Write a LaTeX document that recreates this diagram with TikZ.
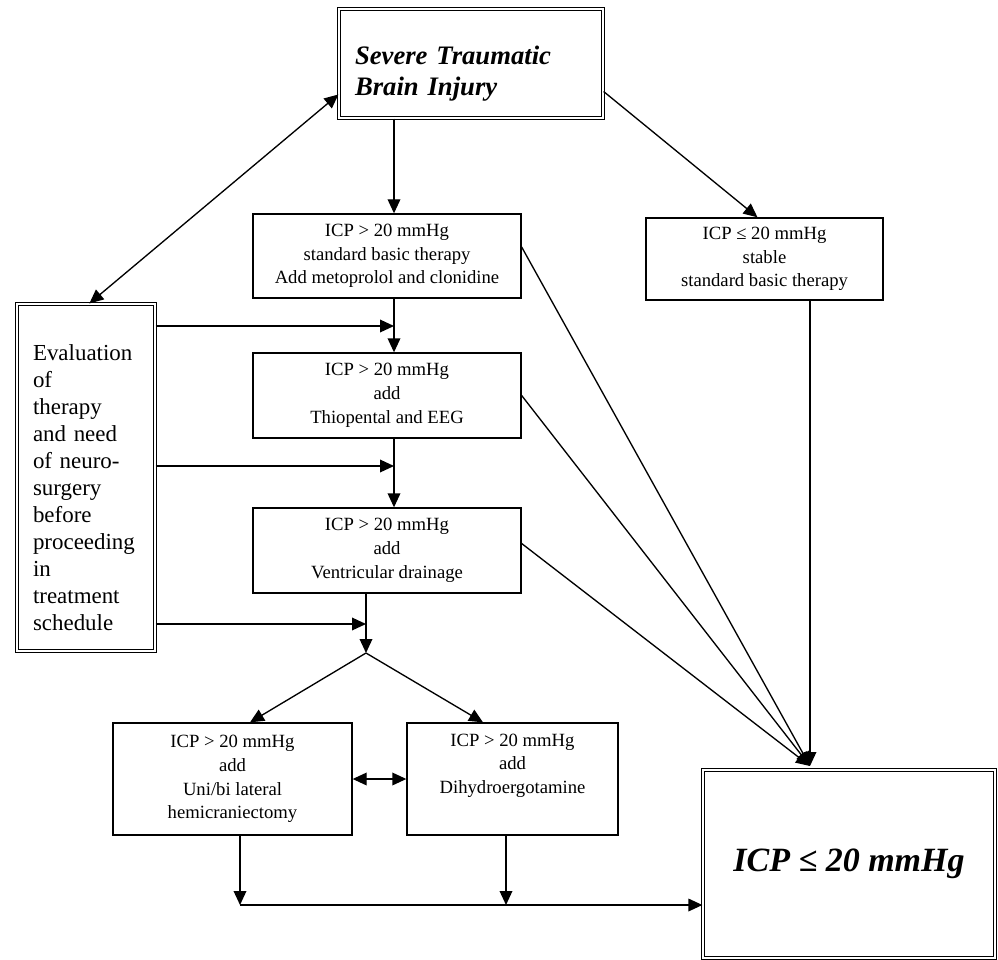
\documentclass[tikz,border=0pt]{standalone}
\usepackage{fontspec}
\setmainfont{Liberation Serif}
\usetikzlibrary{arrows.meta,calc}
\newcommand\boxtxt{\fontsize{14}{17.8}\selectfont}
\newcommand\evaltxt{\fontsize{17.2}{20.3}\selectfont}
\newcommand\headtxt{\bfseries\itshape\fontsize{20}{23.3}\selectfont}
\newcommand\goaltxt{\bfseries\itshape\fontsize{25.5}{30}\selectfont}
\tikzset{
	tbox/.style={draw, line width=1pt, inner sep=0pt, align=center, font=\boxtxt},
	dbox/.style={draw, double, double distance=1.6pt, line width=0.9pt, inner sep=0pt}
}
\begin{document}
\begin{tikzpicture}[x=0.75pt,y=-0.75pt,line width=1pt,>={Triangle[length=10.5pt,width=9.5pt]}]
				\useasboundingbox (0,0) rectangle (998,959);
				
				\node[dbox, minimum width=198pt, minimum height=81.75pt, text width=174pt, align=left, font=\headtxt] (top) at (471,63.5) {\rule{0pt}{29pt}Severe Traumatic\\Brain Injury};
				\node[tbox, minimum width=201pt, minimum height=63pt] (box1) at (387,256) {ICP > 20 mmHg\\standard basic therapy\\Add metoprolol and clonidine};
				\node[tbox, minimum width=177.75pt, minimum height=61.5pt] (stable) at (764.5,259) {ICP ≤ 20 mmHg\\stable\\standard basic therapy};
				\node[tbox, minimum width=201pt, minimum height=63.75pt] (box2) at (387,395.5) {ICP > 20 mmHg\\add\\Thiopental and EEG};
				\node[tbox, minimum width=201pt, minimum height=63.75pt] (box3) at (387,550.5) {ICP > 20 mmHg\\add\\Ventricular drainage};
				\node[dbox, minimum width=103.5pt, minimum height=260.25pt, text width=79.5pt, align=left, font=\evaltxt] (eval) at (86,477.5) {\rule{0pt}{27pt}Evaluation\\of\\therapy\\and need\\of neuro-\\surgery\\before\\proceeding\\in\\treatment\\schedule};
				\node[tbox, minimum width=179.25pt, minimum height=84pt] (boxL) at (232.5,779) {ICP > 20 mmHg\\add\\Uni/bi lateral\\hemicraniectomy};
				\node[tbox, minimum width=158.25pt, minimum height=84pt] (boxR) at (512.5,779) {ICP > 20 mmHg\\add\\Dihydroergotamine\\\strut};
				\node[dbox, minimum width=219pt, minimum height=141pt, font=\goaltxt] (goal) at (849,864) {ICP ≤ 20 mmHg};
				
				\coordinate (trunk) at (394,0);
				\coordinate (j1) at (394,326);
				\coordinate (j2) at (394,466);
				\coordinate (j3) at (366,624);
				\coordinate (split) at (366,653);
				\coordinate (hit) at (810,766);
				\coordinate (bl) at (240,905);
				\coordinate (br) at (506,905);
				
				\draw[->] (top.south -| trunk) -- (box1.north -| trunk);
				\draw[->] (box1.south -| trunk) -- (box2.north -| trunk);
				\draw[->] (box2.south -| trunk) -- (box3.north -| trunk);
				\draw[<->] ($(eval.north west)+(73,0)$) -- ($(top.west)+(0,31)$);
				\draw[->] ($(top.east)+(0,28)$) -- ($(stable.north)+(-7,0)$);
				
				\draw[->] (eval.east |- j1) -- (j1);
				\draw[->] (eval.east |- j2) -- (j2);
				\draw[->] (eval.east |- j3) -- (j3);
				
				\draw[->] (box3.south -| split) -- (split);
				\draw[->] (split) -- ($(boxL.north)+(17.5,0)$);
				\draw[->] (split) -- ($(boxR.north)+(-29.5,0)$);
				\draw[<->] (boxL.east) -- (boxR.west);
				
				\draw[->] ($(box1.east)+(0,-9)$) -- (hit);
				\draw[->] (box2.east) -- (hit);
				\draw[->] ($(box3.east)+(0,-7)$) -- (hit);
				\draw[->] (stable.south -| hit) -- (hit);
				
				\draw[->] (boxL.south -| bl) -- (bl);
				\draw[->] (boxR.south -| br) -- (br);
				\draw[->] (bl) -- (goal.west |- bl);
			\end{tikzpicture}
\end{document}
